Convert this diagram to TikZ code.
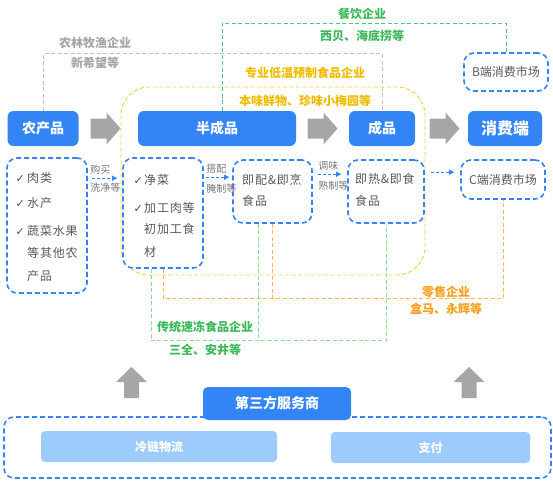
\documentclass[tikz,border=0pt]{standalone}
\usepackage{fontspec}
\setmainfont{Noto Sans CJK SC}
\newfontfamily\symfont{DejaVu Sans}
\newfontfamily\bodyfont[LetterSpace=7]{Noto Sans CJK SC}
\usetikzlibrary{arrows.meta,calc}

\definecolor{mainblue}{RGB}{51,133,245}
\definecolor{lightblue}{RGB}{157,203,253}
\definecolor{arrowgray}{RGB}{166,166,166}
\definecolor{linegray}{RGB}{192,192,192}
\definecolor{txtgray}{RGB}{89,89,89}
\definecolor{lblgray}{RGB}{120,120,120}
\definecolor{grntxt}{RGB}{60,185,90}
\definecolor{grnline}{RGB}{80,200,120}
\definecolor{grnlight}{RGB}{140,220,150}
\definecolor{ylwtxt}{RGB}{240,188,0}
\definecolor{ylwline}{RGB}{247,207,46}
\definecolor{orgtxt}{RGB}{248,160,30}
\definecolor{orgline}{RGB}{255,184,77}

\tikzset{
  topbox/.style={fill=mainblue, text=white, rounded corners=6pt, inner sep=0pt,
    minimum height=35pt, font=\bfseries\fontsize{14}{16}\selectfont},
  dashbox/.style={draw=mainblue, fill=white, line width=1.6pt, dash pattern=on 5pt off 3pt,
    rounded corners=10pt, inner sep=0pt},
  bodytxt/.style={anchor=base west, inner sep=0pt, text=txtgray, font=\bodyfont\fontsize{12}{14}\selectfont},
  checktxt/.style={anchor=base west, inner sep=0pt, text=black!70, font=\symfont\fontsize{11}{12}\selectfont},
  steplbl/.style={inner sep=1pt, text=lblgray, font=\fontsize{10}{12}\selectfont},
  flowarrow/.style={draw=mainblue, line width=0.9pt, dash pattern=on 3pt off 2pt, -{Triangle[length=5pt,width=5pt]}},
  grptxt/.style={inner sep=0pt, font=\bfseries\fontsize{12}{14}\selectfont},
  grpline/.style={line width=0.9pt, dash pattern=on 4pt off 2.5pt},
  svcbox/.style={fill=lightblue, text=white, rounded corners=4pt, inner sep=0pt,
    minimum height=31pt, font=\bfseries\fontsize{12}{14}\selectfont}
}

\begin{document}
\begin{tikzpicture}[x=1pt, y=-1pt]
  \useasboundingbox (0,0) rectangle (553,487);

  % enterprise groups
  \draw[grpline, draw=ylwline, rounded corners=28pt] (121,87) rectangle (425,275);

  % top row
  \node[topbox, minimum width=71pt] (nc) at (43,128.5) {农产品};
  \node[topbox, minimum width=158pt] (bc) at (217,128.5) {半成品};
  \node[topbox, minimum width=66pt] (cp) at (382,128.5) {成品};
  \node[topbox, minimum width=74pt, font=\bfseries\fontsize{16}{18}\selectfont] (xf) at (505,128.5) {消费端};
  \foreach \cx in {105.5,322.5,444.5}{%
    \fill[arrowgray] ({\cx-15},118.5) -- ({\cx+1},118.5) -- ({\cx+1},112.5) -- ({\cx+15},128.5)
      -- ({\cx+1},144.5) -- ({\cx+1},138.5) -- ({\cx-15},138.5) -- cycle;
  }

  % second row
  \node[dashbox, minimum width=80pt, minimum height=135pt] (lb) at (47,225.5) {};
  \node[dashbox, minimum width=80pt, minimum height=110pt] (jc) at (163,213) {};
  \node[dashbox, minimum width=79pt, minimum height=63pt] (jp) at (272.5,191.5) {};
  \node[dashbox, minimum width=76pt, minimum height=63pt] (jr) at (386,191.5) {};
  \node[dashbox, minimum width=84pt, minimum height=39pt, text=txtgray,
    font=\fontsize{12}{14}\selectfont] (cd) at (503,179.5) {C端消费市场};
  \node[dashbox, minimum width=84pt, minimum height=38pt, text=txtgray,
    font=\fontsize{12}{14}\selectfont] (bd) at (506,72) {B端消费市场};

  \foreach \t/\yy/\ck [count=\i] in {肉类/182.5/1,水产/207.5/1,蔬菜水果/235.5/1,等其他农/257.5/0,产品/280.5/0}{%
    \node[bodytxt] (lb-\i) at (27,\yy) {\t};
    \ifnum\ck=1 \node[checktxt] (lbc-\i) at (15.5,\yy) {✓};\fi
  }
  \foreach \t/\yy/\ck [count=\i] in {净菜/184.5/1,加工肉等/212.5/1,初加工食/233.5/0,材/256.5/0}{%
    \node[bodytxt] (jc-\i) at (144,\yy) {\t};
    \ifnum\ck=1 \node[checktxt] (jcc-\i) at (133.5,\yy) {✓};\fi
  }
  \node[bodytxt] (jp-1) at (242,184.5) {即配\&即烹};
  \node[bodytxt] (jp-2) at (242,205.5) {食品};
  \node[bodytxt] (jr-1) at (355,183.5) {即热\&即食};
  \node[bodytxt] (jr-2) at (355,205.5) {食品};

  % process steps
  \draw[flowarrow] ($(lb.north east)+(4,21)$) -- ($(jc.north west)+(-5,21)$)
    node[steplbl, pos=0, anchor=south west, xshift=-3pt, yshift=2pt] {购买}
    node[steplbl, pos=0, anchor=north west, xshift=-3pt, yshift=-3pt] {洗净等};
  \draw[flowarrow] ($(jc.north east)+(2,20)$) -- ($(jp.north west)+(-3,18)$)
    node[steplbl, pos=0, anchor=south west, xshift=-1pt, yshift=2pt] {搭配}
    node[steplbl, pos=0, anchor=north west, xshift=-1pt, yshift=-5pt] {腌制等};
  \draw[flowarrow] ($(jp.north east)+(5,15)$) -- ($(jr.north west)+(-6,15)$)
    node[steplbl, pos=0, anchor=south west, xshift=-1pt, yshift=2pt] {调味}
    node[steplbl, pos=0, anchor=north west, xshift=-1pt, yshift=-5pt] {熟制等};
  \draw[flowarrow] ($(jr.north east)+(6,13)$) -- ($(cd.north west)+(-6,13)$);

  % agriculture
  \draw[grpline, draw=linegray] (nc.north) |- ($(cp.north)+(0,-57)$) -- (cp.north);
  \node[grptxt, text=arrowgray] (nl-1) at (95,43) {农林牧渔企业};
  \node[grptxt, text=arrowgray] (nl-2) at (95,63) {新希望等};

  % catering
  \draw[grpline, draw=grnline] ($(bc.north)+(5,0)$) |- ($(bd.north)+(0,-29)$) -- (bd.north);
  \node[grptxt, text=grntxt] (cy-1) at (362,14) {餐饮企业};
  \node[grptxt, text=grntxt] (cy-2) at (362,36) {西贝、海底捞等};

  % prepared food
  \node[grptxt, text=ylwtxt] (yz-1) at (305,73) {专业低温预制食品企业};
  \node[grptxt, text=ylwtxt] (yz-2) at (305,101) {本味鲜物、珍味小梅园等};

  % retail
  \coordinate (okink) at ($(cd.south)+(0,99)$);
  \draw[grpline, draw=orgline] (jc.south) |- (okink) -- (cd.south);
  \draw[grpline, draw=orgline] (jp.south) -- (jp.south |- okink);
  \node[grptxt, text=orgtxt] (ls-1) at (446,292) {零售企业};
  \node[grptxt, text=orgtxt] (ls-2) at (446,309) {盒马、永辉等};

  % frozen food
  \coordinate (gkink) at ($(jr.south)+(0,117)$);
  \coordinate (jcg) at ($(jc.south)+(-12,0)$);
  \coordinate (jpg) at ($(jp.south)+(-14,0)$);
  \draw[grpline, draw=grnlight] (jcg) |- (gkink) -- (jr.south);
  \draw[grpline, draw=grnlight] (jpg) -- (jpg |- gkink);
  \node[grptxt, text=grntxt] (sd-1) at (205,327) {传统速冻食品企业};
  \node[grptxt, text=grntxt] (sd-2) at (205,350) {三全、安井等};

  % third party services
  \foreach \cx in {131.5,469}{%
    \fill[arrowgray] (\cx,367) -- ({\cx+15.5},382) -- ({\cx+7.5},382) -- ({\cx+7.5},398)
      -- ({\cx-7.5},398) -- ({\cx-7.5},382) -- ({\cx-15.5},382) -- cycle;
  }
  \node[dashbox, fill=none, minimum width=547pt, minimum height=61pt] (svc) at (277.5,447.5) {};
  \node[topbox, minimum width=148pt, minimum height=33pt, rounded corners=5pt] (sf) at (277,403.5) {第三方服务商};
  \node[svcbox, minimum width=236pt] (ll) at (159,446.5) {冷链物流};
  \node[svcbox, minimum width=199pt] (zf) at (430.5,447.5) {支付};
\end{tikzpicture}
\end{document}
